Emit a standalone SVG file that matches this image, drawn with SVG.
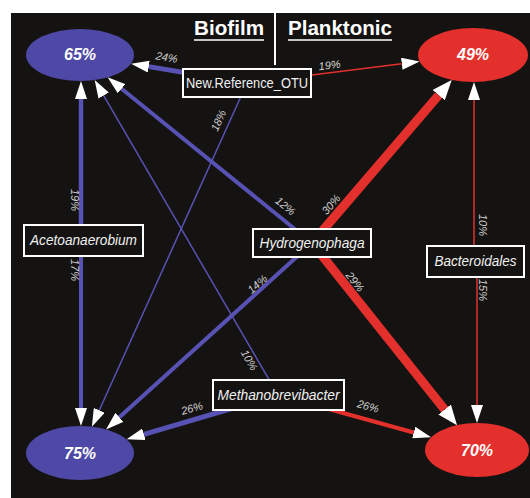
<svg xmlns="http://www.w3.org/2000/svg" width="530" height="498" viewBox="0 0 530 498">
<style>
.bg{fill:#151311}
.eb{fill:#4e48a6}
.er{fill:#e3302c}
.et{font-family:"Liberation Sans",Arial,sans-serif;font-size:16px;font-weight:bold;font-style:italic;fill:#ffffff;text-anchor:middle}
.box{fill:#151311;stroke:#ffffff;stroke-width:2}
.bt{font-family:"Liberation Sans",Arial,sans-serif;font-size:14px;font-style:italic;fill:#f0f0f0;text-anchor:middle}
.bn{font-style:normal}
.lb{stroke:#5852b4;fill:none}
.lr{stroke:#e3302c;fill:none}
.el{font-family:"Liberation Sans",Arial,sans-serif;font-size:11px;font-style:italic;fill:#cfcfcf;text-anchor:middle}
.tt{font-family:"Liberation Sans",Arial,sans-serif;font-size:21px;font-weight:bold;fill:#ffffff;text-anchor:middle}
</style>
<defs>
<marker id="a" markerUnits="userSpaceOnUse" markerWidth="18" markerHeight="12" refX="0" refY="6" orient="auto" viewBox="0 0 18 12"><path d="M0,0 L18,6 L0,12 z" fill="#ffffff"/></marker>
<marker id="ab" markerUnits="userSpaceOnUse" markerWidth="20" markerHeight="16" refX="0" refY="8" orient="auto" viewBox="0 0 20 16"><path d="M0,0 L20,8 L0,16 z" fill="#ffffff"/></marker>
</defs>
<rect x="0" y="0" width="530" height="498" fill="#ffffff"/>
<rect class="bg" x="11" y="13" width="519" height="485"/>
<g id="title">
<text class="tt" x="229" y="35" textLength="70" lengthAdjust="spacingAndGlyphs">Biofilm</text>
<line x1="194" y1="40" x2="264" y2="40" stroke="#ffffff" stroke-width="1.5"/>
<text class="tt" x="340" y="35" textLength="104" lengthAdjust="spacingAndGlyphs">Planktonic</text>
<line x1="288" y1="40" x2="392" y2="40" stroke="#ffffff" stroke-width="1.5"/>
<line x1="275" y1="13" x2="275" y2="65" stroke="#ffffff" stroke-width="2"/>
</g>
<g id="edges">
<line class="lb" x1="247" y1="83" x2="148.8" y2="66.6" stroke-width="5" marker-end="url(#a)"/>
<line class="lb" x1="247" y1="83" x2="99.3" y2="410.3" stroke-width="1.5" marker-end="url(#a)"/>
<line class="lr" x1="247" y1="83" x2="401.8" y2="63.8" stroke-width="1.5" marker-end="url(#a)"/>
<line class="lb" x1="81" y1="240" x2="81" y2="99" stroke-width="4.5" marker-end="url(#a)"/>
<line class="lb" x1="81" y1="240" x2="81" y2="408" stroke-width="4" marker-end="url(#a)"/>
<line class="lb" x1="312" y1="243" x2="121.6" y2="88.7" stroke-width="4" marker-end="url(#a)"/>
<line class="lb" x1="312" y1="243" x2="119.4" y2="417.3" stroke-width="4" marker-end="url(#a)"/>
<line class="lb" x1="278" y1="395" x2="103.7" y2="95.6" stroke-width="1.5" marker-end="url(#a)"/>
<line class="lb" x1="278" y1="395" x2="143.9" y2="434.3" stroke-width="5" marker-end="url(#a)"/>
<line class="lr" x1="278" y1="395" x2="413.7" y2="432.5" stroke-width="4" marker-end="url(#a)"/>
<line class="lr" x1="312" y1="243" x2="438.7" y2="95.1" stroke-width="9" marker-end="url(#ab)"/>
<line class="lr" x1="312" y1="243" x2="444.6" y2="409.5" stroke-width="9" marker-end="url(#ab)"/>
<line class="lr" x1="474" y1="261" x2="474" y2="100" stroke-width="1.5" marker-end="url(#a)"/>
<line class="lr" x1="477" y1="261" x2="477" y2="405" stroke-width="1.5" marker-end="url(#a)"/>
<text class="el" transform="translate(166,61) rotate(9.5)">24%</text>
<text class="el" transform="translate(330,69) rotate(-7)">19%</text>
<text class="el" transform="translate(222,122) rotate(-65.7)">18%</text>
<text class="el" transform="translate(71,200) rotate(90)">19%</text>
<text class="el" transform="translate(71,270) rotate(90)">17%</text>
<text class="el" transform="translate(283,209) rotate(39)">12%</text>
<text class="el" transform="translate(260,287) rotate(-42)">14%</text>
<text class="el" transform="translate(334,207) rotate(-49.4)">30%</text>
<text class="el" transform="translate(352,284) rotate(51.4)">29%</text>
<text class="el" transform="translate(246,362) rotate(59.8)">10%</text>
<text class="el" transform="translate(193,412) rotate(-16.3)">26%</text>
<text class="el" transform="translate(367,410) rotate(15.5)">26%</text>
<text class="el" transform="translate(479,225) rotate(90)">10%</text>
<text class="el" transform="translate(479,290) rotate(90)">15%</text>
</g>
<g id="n65"><ellipse class="eb" cx="80" cy="55" rx="54" ry="26"/><text class="et" x="80" y="60">65%</text></g>
<g id="n49"><ellipse class="er" cx="473" cy="55" rx="55" ry="27"/><text class="et" x="473" y="60">49%</text></g>
<g id="n75"><ellipse class="eb" cx="80" cy="453" rx="54" ry="27"/><text class="et" x="80" y="459">75%</text></g>
<g id="n70"><ellipse class="er" cx="477" cy="450" rx="52" ry="27"/><text class="et" x="477" y="456">70%</text></g>
<g id="newref"><rect class="box" x="183" y="69" width="128" height="28"/><text class="bt bn" x="247" y="88" textLength="122" lengthAdjust="spacingAndGlyphs">New.Reference_OTU</text></g>
<g id="aceto"><rect class="box" x="24" y="225" width="119" height="31"/><text class="bt" x="83.5" y="245" textLength="107" lengthAdjust="spacingAndGlyphs">Acetoanaerobium</text></g>
<g id="hydro"><rect class="box" x="253" y="229" width="118" height="28"/><text class="bt" x="312" y="248" textLength="105" lengthAdjust="spacingAndGlyphs">Hydrogenophaga</text></g>
<g id="bacter"><rect class="box" x="427" y="246" width="97" height="31"/><text class="bt" x="475.5" y="266" textLength="82" lengthAdjust="spacingAndGlyphs">Bacteroidales</text></g>
<g id="meth"><rect class="box" x="213" y="380" width="131" height="30"/><text class="bt" x="278.5" y="400" textLength="122" lengthAdjust="spacingAndGlyphs">Methanobrevibacter</text></g>
</svg>
